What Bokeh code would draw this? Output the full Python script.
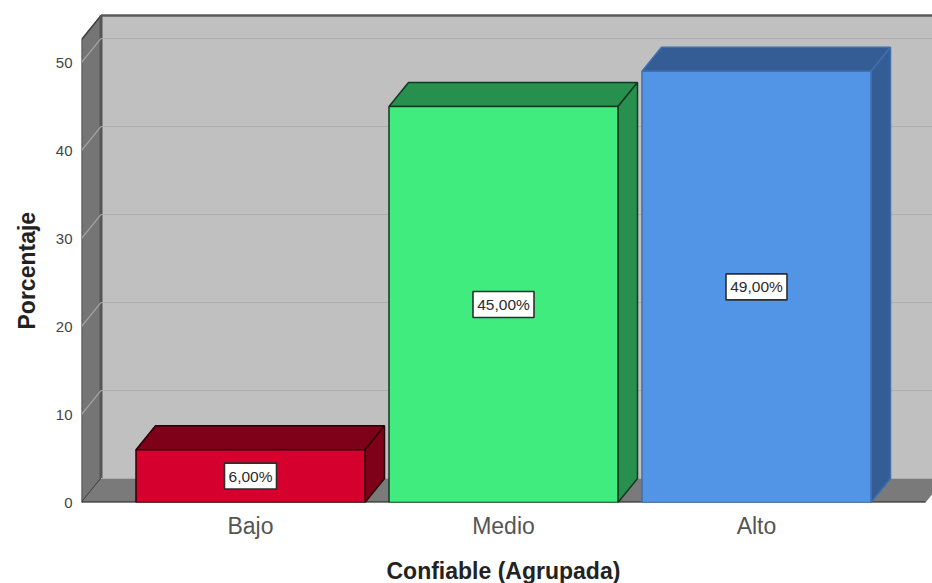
from bokeh.embed import file_html
from bokeh.models import FixedTicker, Range1d, Title
from bokeh.plotting import figure
from bokeh.resources import INLINE

categories = ["Bajo", "Medio", "Alto"]
percentages = [6.0, 45.0, 49.0]
value_labels = ["6,00%", "45,00%", "49,00%"]
y_ticks = [0, 10, 20, 30, 40, 50]

front_colors = ["#d6002e", "#40ec7e", "#5294e6"]
shade_colors = ["#7f0019", "#27904f", "#345d95"]
edge_colors = ["#2a0008", "#0f3a20", "#3f6fae"]

# Screen scale of the plot frame
FRAME_W, FRAME_H = 851, 502
PX_PER_CATEGORY = 253
PX_PER_PERCENT = 8.8
FIRST_CENTER_PX = 169  # category 0, measured from the frame's left edge

dx = 19.5 / PX_PER_CATEGORY     # 3D depth, horizontal
dy = 24 / PX_PER_PERCENT        # 3D depth, vertical
half_bar = 114.5 / PX_PER_CATEGORY

x_start = -FIRST_CENTER_PX / PX_PER_CATEGORY
x_end = x_start + FRAME_W / PX_PER_CATEGORY
y_end = FRAME_H / PX_PER_PERCENT
wall_top_back = (FRAME_H - 15) / PX_PER_PERCENT
floor_right = x_start + 844 / PX_PER_CATEGORY

p = figure(
    width=932, height=583, frame_width=FRAME_W, frame_height=FRAME_H,
    x_range=Range1d(x_start, x_end), y_range=Range1d(0, y_end),
    output_backend="svg", toolbar_location=None,
    min_border_left=81, min_border_right=0, min_border_top=0, min_border_bottom=81,
    background_fill_color="white", border_fill_color="white",
)
p.outline_line_color = None
p.grid.visible = False

# Back wall, side wall and floor of the 3D box
p.patch([x_start + dx, x_end + dx, x_end + dx, x_start + dx],
        [dy, dy, wall_top_back, wall_top_back],
        fill_color="#c0c0c0", line_color=None)
p.patch([x_start, x_start + dx, x_start + dx, x_start],
        [0, dy, wall_top_back, wall_top_back - dy],
        fill_color="#757575", line_color="#3c3c3c", line_width=1.5)
p.patch([x_start, x_start + dx, floor_right + dx, floor_right],
        [0, dy, dy, 0],
        fill_color="#7a7a7a", line_color=None)
p.line([x_start + dx, x_start + dx], [dy, wall_top_back], line_color="#555555", line_width=3)
p.line([x_start + dx, x_end], [wall_top_back, wall_top_back], line_color="#5a5a5a", line_width=2.5)
p.line([x_start + dx, floor_right + dx], [dy, dy], line_color="#adadad", line_width=1)
p.line([x_start, floor_right], [0, 0], line_color="#222222", line_width=2)

# Gridlines across the back wall and down the side wall
for t in y_ticks[1:]:
    p.line([x_start + dx, x_end], [t + dy, t + dy], line_color="#adadad", line_width=1.2)
    p.line([x_start, x_start + dx], [t, t + dy], line_color="#a2a2a2", line_width=1.2)

# Bars: top and side faces first, then the front face
for i, v in enumerate(percentages):
    left, right = i - half_bar, i + half_bar
    p.patch([left, left + dx, right + dx, right], [v, v + dy, v + dy, v],
            fill_color=shade_colors[i], line_color=edge_colors[i], line_width=1.5)
    p.patch([right, right + dx, right + dx, right], [0, dy, v + dy, v],
            fill_color=shade_colors[i], line_color=edge_colors[i], line_width=1.5)
    p.quad(left=left, right=right, bottom=0, top=v,
           fill_color=front_colors[i], line_color=edge_colors[i], line_width=1.5)

# Value labels in white boxes at the middle of each bar
for i, v in enumerate(percentages):
    half_w = (26 if i == 0 else 30.5) / PX_PER_CATEGORY
    half_h = 13 / PX_PER_PERCENT
    p.quad(left=i - half_w, right=i + half_w, bottom=v / 2 - half_h, top=v / 2 + half_h,
           fill_color="white", line_color="#2e2e2e", line_width=1.6)
p.text(x=[0, 1, 2], y=[v / 2 for v in percentages], text=value_labels,
       text_align="center", text_baseline="middle",
       text_font={"value": "Liberation Sans"}, text_font_size="15.5px", text_color="#2b2b2b")

# Axes
p.yaxis.ticker = FixedTicker(ticks=y_ticks)
p.yaxis.axis_line_color = None
p.yaxis.major_tick_line_color = None
p.yaxis.minor_tick_line_color = None
p.yaxis.major_label_text_font = "Liberation Sans"
p.yaxis.major_label_text_font_size = "15px"
p.yaxis.major_label_text_color = "#444444"
p.yaxis.major_label_standoff = 3

p.xaxis.ticker = FixedTicker(ticks=[0, 1, 2])
p.xaxis.major_label_overrides = {i: c for i, c in enumerate(categories)}
p.xaxis.axis_line_color = None
p.xaxis.major_tick_line_color = None
p.xaxis.minor_tick_line_color = None
p.xaxis.major_label_text_font = "Liberation Sans"
p.xaxis.major_label_text_font_size = "23px"
p.xaxis.major_label_text_color = "#555555"
p.xaxis.major_label_standoff = 4

# Axis titles, set as titles so that they can slide along their side of the frame
title_style = dict(
    text_font="Liberation Sans", text_font_style="bold", text_font_size="23px",
    text_color="#222222", align="left",
)
p.add_layout(Title(text="Porcentaje", offset=173, standoff=21, vertical_align="top", **title_style), "left")
p.add_layout(Title(text="Confiable (Agrupada)", offset=305, standoff=29, **title_style), "below")

open("out.html", "w").write(file_html(p, INLINE))
